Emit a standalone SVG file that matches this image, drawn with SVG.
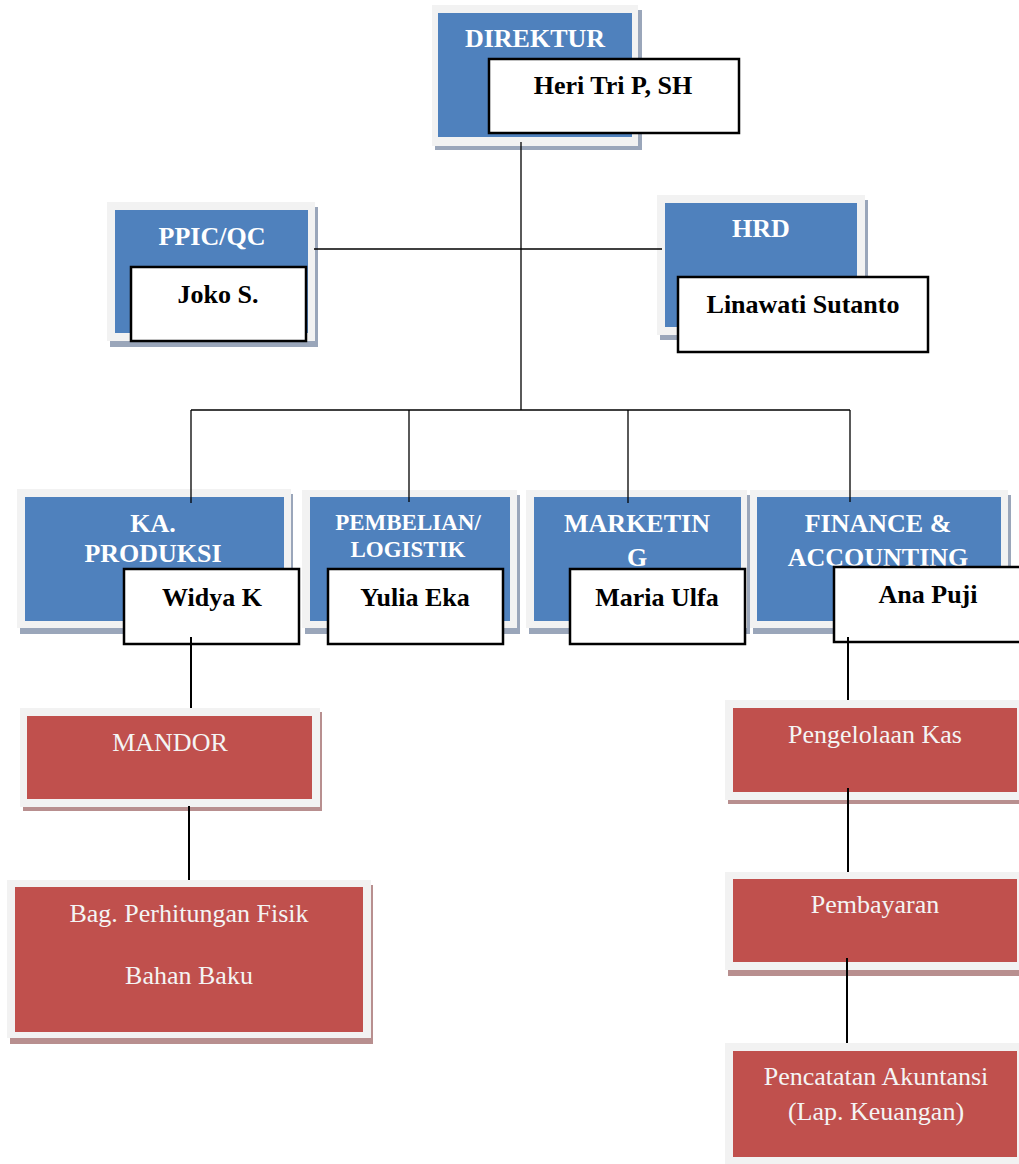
<svg xmlns="http://www.w3.org/2000/svg" width="1019" height="1164" viewBox="0 0 1019 1164">
<style>
.frame{fill:#f2f2f2}
.shb{fill:#9aa6ba}
.shr{fill:#b88f8f}
.blue{fill:#4f81bd}
.red{fill:#c0504d}
.name{fill:#ffffff;stroke:#000000;stroke-width:2.5}
.tb{font-family:"Liberation Serif","Times New Roman",serif;font-weight:bold;font-size:26px;fill:#ffffff;text-anchor:middle}
.tn{font-family:"Liberation Serif","Times New Roman",serif;font-weight:bold;font-size:26px;fill:#000000;text-anchor:middle}
.tr{font-family:"Liberation Serif","Times New Roman",serif;font-size:26px;fill:#f4f4f4;text-anchor:middle}
.c{stroke:#000000;stroke-width:1.3;fill:none}
.c2{stroke:#000000;stroke-width:2;fill:none}
</style>
<rect width="1019" height="1164" fill="#ffffff"/>

<g id="direktur">
<rect class="shb" x="435" y="10" width="207" height="140"/>
<rect class="frame" x="432" y="5" width="206" height="141"/>
<rect class="blue" x="438" y="13" width="194" height="124"/>
<text class="tb" x="535" y="47">DIREKTUR</text>
<rect class="name" x="489" y="59" width="250" height="74"/>
<text class="tn" x="613" y="94">Heri Tri P, SH</text>
</g>

<g id="ppic">
<rect class="shb" x="110" y="207" width="208" height="140"/>
<rect class="frame" x="107" y="202" width="208" height="139"/>
<rect class="blue" x="115" y="210" width="193" height="123"/>
<text class="tb" x="212" y="245">PPIC/QC</text>
<rect class="name" x="131" y="267" width="175" height="74"/>
<text class="tn" x="218" y="303">Joko S.</text>
</g>

<g id="hrd">
<rect class="shb" x="660" y="200" width="208" height="140"/>
<rect class="frame" x="657" y="195" width="208" height="140"/>
<rect class="blue" x="665" y="203" width="192" height="124"/>
<text class="tb" x="761" y="237">HRD</text>
<rect class="name" x="678" y="277" width="250" height="75"/>
<text class="tn" x="803" y="313">Linawati Sutanto</text>
</g>

<g id="ka-produksi">
<rect class="shb" x="20" y="494" width="273" height="140"/>
<rect class="frame" x="17" y="489" width="274" height="139"/>
<rect class="blue" x="25" y="497" width="259" height="124"/>
<text class="tb" x="153" y="532">KA.</text>
<text class="tb" x="153" y="562">PRODUKSI</text>
<rect class="name" x="124" y="569" width="175" height="75"/>
<text class="tn" x="212" y="606">Widya K</text>
</g>

<g id="pembelian">
<rect class="shb" x="305" y="495" width="215" height="139"/>
<rect class="frame" x="302" y="490" width="215" height="138"/>
<rect class="blue" x="310" y="497" width="200" height="124"/>
<text class="tb" x="408" y="530" style="font-size:23px">PEMBELIAN/</text>
<text class="tb" x="408" y="557" style="font-size:23px">LOGISTIK</text>
<rect class="name" x="328" y="569" width="175" height="75"/>
<text class="tn" x="415" y="606">Yulia Eka</text>
</g>

<g id="marketing">
<rect class="shb" x="529" y="495" width="221" height="139"/>
<rect class="frame" x="526" y="490" width="221" height="138"/>
<rect class="blue" x="534" y="497" width="207" height="124"/>
<text class="tb" x="637" y="532">MARKETIN</text>
<text class="tb" x="637" y="566">G</text>
<rect class="name" x="570" y="569" width="175" height="75"/>
<text class="tn" x="657" y="606">Maria Ulfa</text>
</g>

<g id="finance">
<rect class="shb" x="753" y="495" width="258" height="139"/>
<rect class="frame" x="750" y="490" width="258" height="138"/>
<rect class="blue" x="757" y="497" width="244" height="124"/>
<text class="tb" x="878" y="532">FINANCE &amp;</text>
<text class="tb" x="878" y="566">ACCOUNTING</text>
<rect class="name" x="834" y="567" width="200" height="75"/>
<text class="tn" x="928" y="603">Ana Puji</text>
</g>

<g id="mandor">
<rect class="shr" x="23" y="712" width="299" height="99"/>
<rect class="frame" x="20" y="708" width="300" height="99"/>
<rect class="red" x="27" y="716" width="285" height="83"/>
<text class="tr" x="170" y="751">MANDOR</text>
</g>

<g id="bag-perhitungan">
<rect class="shr" x="10" y="885" width="363" height="159"/>
<rect class="frame" x="7" y="880" width="364" height="158"/>
<rect class="red" x="15" y="887" width="348" height="145"/>
<text class="tr" x="189" y="922">Bag. Perhitungan Fisik</text>
<text class="tr" x="189" y="984">Bahan Baku</text>
</g>

<g id="pengelolaan-kas">
<rect class="shr" x="728" y="704" width="300" height="100"/>
<rect class="frame" x="725" y="700" width="300" height="100"/>
<rect class="red" x="733" y="708" width="284" height="84"/>
<text class="tr" x="875" y="743">Pengelolaan Kas</text>
</g>

<g id="pembayaran">
<rect class="shr" x="728" y="876" width="300" height="100"/>
<rect class="frame" x="725" y="872" width="300" height="98"/>
<rect class="red" x="733" y="879" width="284" height="83"/>
<text class="tr" x="875" y="913">Pembayaran</text>
</g>

<g id="pencatatan">
<rect class="frame" x="725" y="1043" width="300" height="125"/>
<rect class="red" x="733" y="1051" width="284" height="106"/>
<text class="tr" x="876" y="1085">Pencatatan Akuntansi</text>
<text class="tr" x="876" y="1120">(Lap. Keuangan)</text>
</g>

<g id="connectors">
<line class="c" x1="521" y1="142" x2="521" y2="410"/>
<line class="c" x1="314" y1="249" x2="662" y2="249"/>
<line class="c" x1="191" y1="410" x2="850" y2="410"/>
<line class="c" x1="191" y1="410" x2="191" y2="503"/>
<line class="c" x1="409" y1="410" x2="409" y2="502"/>
<line class="c" x1="628" y1="410" x2="628" y2="503"/>
<line class="c" x1="850" y1="410" x2="850" y2="502"/>
<line class="c2" x1="191" y1="637" x2="191" y2="708"/>
<line class="c2" x1="189" y1="806" x2="189" y2="880"/>
<line class="c2" x1="848" y1="637" x2="848" y2="700"/>
<line class="c2" x1="848" y1="788" x2="848" y2="872"/>
<line class="c2" x1="847" y1="958" x2="847" y2="1043"/>
</g>
</svg>
